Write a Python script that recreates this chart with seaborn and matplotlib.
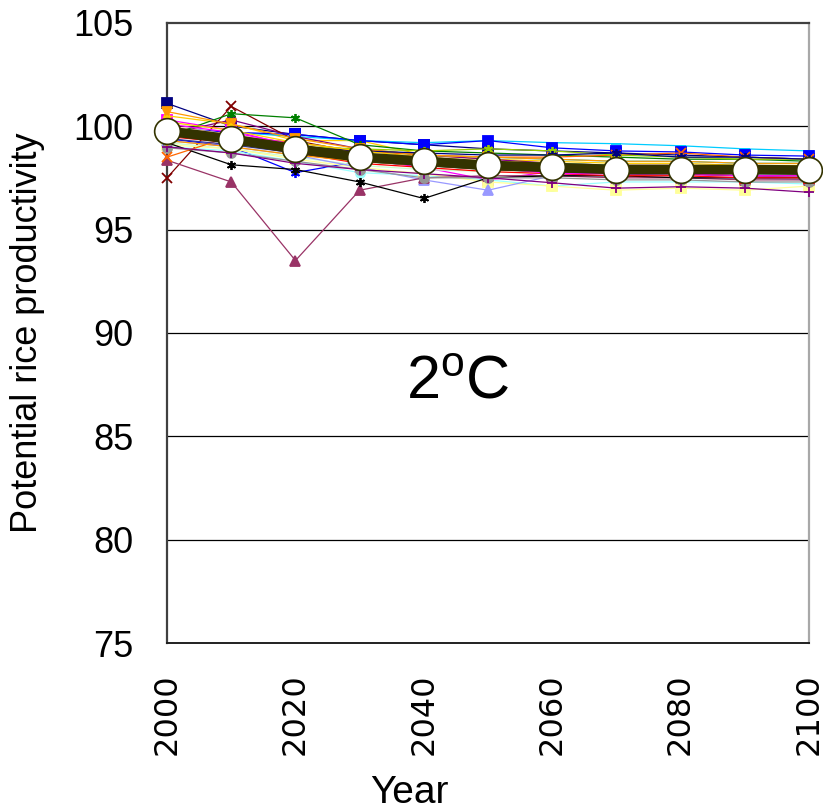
import matplotlib
matplotlib.use("Agg")
import matplotlib.pyplot as plt
import seaborn as sns
from matplotlib import font_manager

sns.set_theme(style="white")
plt.rcParams["text.color"] = "black"
plt.rcParams["axes.labelcolor"] = "black"
plt.rcParams["xtick.color"] = "black"
plt.rcParams["ytick.color"] = "black"

# ---------------- data ----------------
years = [2000, 2010, 2020, 2030, 2040, 2050, 2060, 2070, 2080, 2090, 2100]
mean_values = [99.76, 99.37, 98.9, 98.5, 98.3, 98.1, 98.0, 97.9, 97.9, 97.9, 97.87]

s01 = [101.1, 100.0, 99.6, 99.3, 99.1, 98.9, 98.8, 98.7, 98.6, 98.5, 98.4]
s02 = [100.3, 99.8, 99.0, 98.4, 98.0, 97.4, 97.8, 97.7, 97.6, 97.6, 97.5]
s03 = [100.5, 100.1, 99.3, 99.3, 98.6, 98.4, 98.3, 98.2, 98.2, 98.1, 98.1]
s04 = [99.9, 99.7, 99.5, 99.3, 99.2, 99.3, 99.2, 99.15, 99.05, 98.9, 98.8]
s05 = [99.6, 100.3, 99.5, 98.9, 98.6, 98.4, 98.2, 98.1, 98.1, 98.0, 97.9]
s06 = [97.5, 100.95, 99.3, 98.7, 98.3, 98.1, 98.0, 97.9, 97.8, 97.8, 97.7]
s07 = [99.8, 99.3, 98.8, 98.3, 98.1, 97.9, 97.8, 97.7, 97.7, 97.6, 97.6]
s08 = [99.9, 99.7, 99.6, 99.3, 99.1, 99.3, 98.95, 98.8, 98.75, 98.6, 98.55]
s09 = [99.4, 99.0, 97.75, 98.3, 98.2, 98.0, 97.9, 97.8, 97.8, 97.7, 97.7]
s10 = [99.7, 99.5, 99.2, 98.8, 98.6, 98.5, 98.4, 98.3, 98.3, 98.2, 98.2]
s11 = [99.0, 98.8, 98.3, 97.75, 97.6, 97.4, 97.1, 97.3, 97.3, 97.3, 97.2]
s12 = [99.2, 98.9, 98.5, 98.1, 97.9, 97.8, 97.7, 97.6, 97.6, 97.5, 97.5]
s13 = [99.1, 98.9, 98.4, 98.0, 97.7, 97.3, 97.1, 96.9, 97.0, 96.9, 97.1]
s14 = [99.8, 99.4, 98.9, 98.5, 98.3, 98.2, 98.1, 98.0, 98.0, 97.9, 97.9]
s15 = [99.9, 99.5, 99.0, 98.6, 98.3, 98.1, 98.0, 97.9, 97.8, 97.8, 97.8]
s16 = [99.3, 99.0, 98.6, 98.0, 97.4, 96.9, 97.6, 97.6, 97.5, 97.5, 97.4]
s17 = [100.0, 99.6, 99.1, 98.7, 98.4, 98.2, 98.1, 98.0, 98.0, 97.9, 97.9]
s18 = [98.35, 97.3, 93.5, 96.9, 97.5, 97.6, 97.6, 97.5, 97.5, 97.4, 97.4]
s19 = [99.2, 98.13, 97.9, 97.3, 96.5, 97.5, 97.6, 97.6, 97.5, 97.5, 97.5]
s20 = [99.5, 100.6, 100.4, 99.1, 98.8, 98.7, 98.6, 98.5, 98.4, 98.4, 98.3]
s21 = [98.95, 98.7, 98.3, 97.9, 97.5, 97.5, 97.5, 97.4, 97.4, 97.3, 97.3]
s22 = [98.5, 99.5, 99.2, 98.8, 98.6, 98.5, 98.5, 98.6, 98.7, 98.5, 98.4]
s23 = [100.7, 100.1, 99.4, 98.9, 98.6, 98.5, 98.4, 98.3, 98.3, 98.2, 98.2]
s24 = [99.6, 99.3, 99.0, 98.9, 98.8, 98.9, 98.8, 98.6, 98.5, 98.4, 98.4]
s25 = [99.7, 99.4, 99.0, 98.8, 98.7, 98.6, 98.6, 98.7, 98.5, 98.5, 98.4]
s26 = [99.0, 98.7, 98.2, 97.9, 97.7, 97.5, 97.26, 97.0, 97.07, 97.0, 96.8]
s27 = [100.2, 99.8, 99.2, 98.8, 98.5, 98.3, 98.2, 98.1, 98.1, 98.0, 98.0]
s28 = [99.9, 99.5, 99.0, 98.6, 98.3, 98.1, 98.0, 97.9, 97.9, 97.8, 97.8]
s29 = [99.5, 99.2, 98.7, 98.2, 98.0, 97.8, 97.7, 97.6, 97.6, 97.5, 97.5]
s30 = [99.6, 99.3, 98.8, 98.4, 98.1, 97.9, 97.8, 97.7, 97.7, 97.6, 97.6]
s31 = [100.1, 99.7, 99.1, 98.5, 98.2, 98.0, 97.7, 97.7, 97.7, 97.6, 97.6]
s32 = [99.8, 99.4, 99.0, 98.6, 98.4, 98.2, 98.2, 98.1, 98.0, 98.0, 97.9]
s33 = [99.4, 99.1, 98.7, 98.3, 98.1, 98.0, 97.9, 97.8, 97.8, 97.8, 97.7]
s34 = [99.7, 99.3, 98.9, 98.5, 98.3, 98.1, 98.0, 98.0, 97.9, 97.9, 97.9]
s35 = [99.3, 99.0, 98.6, 98.3, 98.1, 98.0, 97.9, 97.9, 97.8, 97.8, 97.8]

series = [s01, s02, s03, s04, s05, s06, s07, s08, s09, s10, s11, s12,
          s13, s14, s15, s16, s17, s18, s19, s20, s21, s22, s23, s24,
          s25, s26, s27, s28, s29, s30, s31, s32, s33, s34, s35]

y_ticks = [75, 80, 85, 90, 95, 100, 105]
x_ticks = list(range(2000, 2101, 10))
x_ticklabels = [str(y) if (y - 2000) % 20 == 0 else "" for y in x_ticks]
title_text = "2$\\mathregular{^o}$C"

# ---------------- styles ----------------
AST = (6, 2, 0)
colors = ["#000080", "#FF00FF", "#FFCC00", "#00CCFF", "#800080", "#800000",
          "#008080", "#0000FF", "#0000FF", "#00CCFF", "#99FFFF", "#CCFFCC",
          "#FFFF99", "#99CCFF", "#FF99CC", "#9999FF", "#FFCC99", "#993366",
          "#000000", "#008000", "#969696", "#FF6600", "#FF9900", "#99CC00",
          "#000080", "#800080", "#FFCC00", "#339966", "#FF0000", "#993300",
          "#FF00FF", "#33CCCC", "#333399", "#003366", "#FF9900"]
markers = ["s", "s", "^", "_", "o", "x", AST, "s", AST, "D", "o", "D",
           "s", "^", "x", "^", "D", "^", AST, AST, "o", "x", "v", AST,
           AST, "+", "D", "o", "s", "^", "s", "x", "D", "o", "+"]

def pick_family(names):
    avail = {f.name for f in font_manager.fontManager.ttflist}
    for n in names:
        if n in avail:
            return n
    return "DejaVu Sans"

regular = pick_family(["Liberation Sans", "DejaVu Sans"])

fig = plt.figure(figsize=(8.23, 8.11), dpi=100)
ax = fig.add_axes([0.203, 0.207, 0.983 - 0.203, 0.972 - 0.207])

for vals, c, m in zip(series, colors, markers):
    sns.lineplot(x=years, y=vals, ax=ax, color=c, linewidth=0.9,
                 marker=m, markersize=6.5, markeredgecolor=c,
                 markerfacecolor=c, markeredgewidth=1.3,
                 clip_on=False, legend=False, zorder=3)

sns.lineplot(x=years, y=mean_values, ax=ax, color="#333300", linewidth=7,
             marker="o", markersize=18.5, markerfacecolor="white",
             markeredgecolor="#333300", markeredgewidth=1.2,
             clip_on=False, legend=False, zorder=5)

ax.set_xlim(2000, 2100)
ax.set_ylim(75, 105)
ax.set_yticks(y_ticks)
ax.set_yticklabels([str(v) for v in y_ticks], fontsize=26, family=regular)
ax.set_xticks(x_ticks)
ax.set_xticklabels(x_ticklabels, rotation=90, fontsize=23, family="DejaVu Sans")
ax.tick_params(axis="y", length=0, pad=24)
ax.tick_params(axis="x", direction="in", length=12, width=1.0,
               color="#404040", pad=22)

for v in [80, 85, 90, 95, 100]:
    ax.axhline(v, color="black", linewidth=0.9, zorder=1)

ax.set_facecolor("white")
for side in ["left", "top"]:
    ax.spines[side].set_color("#404040")
    ax.spines[side].set_linewidth(1.6)
ax.spines["bottom"].set_color("#202020")
ax.spines["bottom"].set_linewidth(1.4)
ax.spines["right"].set_color("#a8a8a8")
ax.spines["right"].set_linewidth(1.6)

ax.set_ylabel("Potential rice productivity", fontsize=26, family=regular)
ax.yaxis.set_label_coords(-0.19, 0.5)
ax.set_xlabel("Year", fontsize=28, family=regular)
ax.xaxis.set_label_coords(0.378, -0.212)

ax.text(2045.3, 87.6, title_text, fontsize=44, family=regular,
        ha="center", va="center", zorder=6)

fig.savefig("out.png", dpi=100)
